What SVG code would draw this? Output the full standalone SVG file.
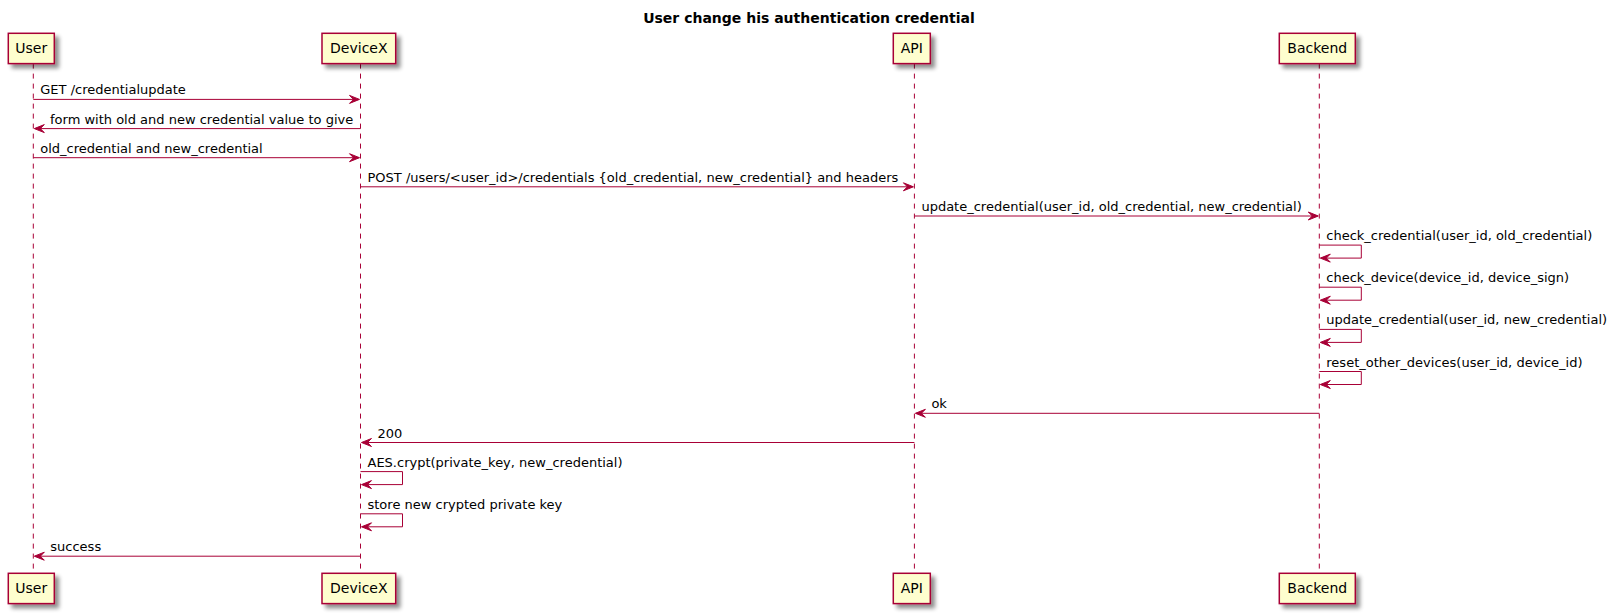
<svg xmlns="http://www.w3.org/2000/svg" width="1618" height="614" viewBox="0 0 1618 614">
<style>
.title{font-family:"DejaVu Sans",sans-serif;font-size:14px;font-weight:bold;fill:#000}
.pbox{fill:#FEFECE;stroke:#A80036;stroke-width:1.5}
.pname{font-family:"DejaVu Sans",sans-serif;font-size:14px;fill:#000;text-anchor:middle}
.life{stroke:#A80036;stroke-width:1;stroke-dasharray:5,5}
.msg{stroke:#A80036;stroke-width:1;fill:none}
.head{fill:#A80036;stroke:#A80036;stroke-width:1}
.lbl{font-family:"DejaVu Sans",sans-serif;font-size:13px;fill:#000}
</style>
<defs>
<filter id="shadow" x="-20%" y="-20%" width="150%" height="160%">
<feGaussianBlur in="SourceAlpha" stdDeviation="2" result="b"/>
<feOffset in="b" dx="4" dy="4" result="o"/>
<feComponentTransfer in="o" result="s"><feFuncA type="linear" slope="0.45"/></feComponentTransfer>
<feMerge><feMergeNode in="s"/><feMergeNode in="SourceGraphic"/></feMerge>
</filter>
</defs>
<rect width="1618" height="614" fill="#FFFFFF"/>
<text class="title" x="809" y="22.5" text-anchor="middle">User change his authentication credential</text>

<g id="lifelines">
<line class="life" x1="33.3" y1="63.6" x2="33.3" y2="573.3"/>
<line class="life" x1="360.5" y1="63.6" x2="360.5" y2="573.3"/>
<line class="life" x1="914.4" y1="63.6" x2="914.4" y2="573.3"/>
<line class="life" x1="1319.3" y1="63.6" x2="1319.3" y2="573.3"/>
</g>

<g id="User">
<rect class="pbox" filter="url(#shadow)" x="8.3" y="33.3" width="46" height="30.3"/>
<text class="pname" x="31.3" y="53.2">User</text>
<rect class="pbox" filter="url(#shadow)" x="8.3" y="573.3" width="46" height="30.3"/>
<text class="pname" x="31.3" y="593.2">User</text>
</g>
<g id="DeviceX">
<rect class="pbox" filter="url(#shadow)" x="322" y="33.3" width="73.7" height="30.3"/>
<text class="pname" x="358.85" y="53.2">DeviceX</text>
<rect class="pbox" filter="url(#shadow)" x="322" y="573.3" width="73.7" height="30.3"/>
<text class="pname" x="358.85" y="593.2">DeviceX</text>
</g>
<g id="API">
<rect class="pbox" filter="url(#shadow)" x="893.3" y="33.3" width="37" height="30.3"/>
<text class="pname" x="911.8" y="53.2">API</text>
<rect class="pbox" filter="url(#shadow)" x="893.3" y="573.3" width="37" height="30.3"/>
<text class="pname" x="911.8" y="593.2">API</text>
</g>
<g id="Backend">
<rect class="pbox" filter="url(#shadow)" x="1279.3" y="33.3" width="76" height="30.3"/>
<text class="pname" x="1317.3" y="53.2">Backend</text>
<rect class="pbox" filter="url(#shadow)" x="1279.3" y="573.3" width="76" height="30.3"/>
<text class="pname" x="1317.3" y="593.2">Backend</text>
</g>

<g id="connectors">
<!-- 1 GET -->
<line class="msg" x1="33.3" y1="99.4" x2="358.5" y2="99.4"/>
<polygon class="head" points="349.5,95.4 359.5,99.4 349.5,103.4 353.5,99.4"/>
<text class="lbl" x="40.3" y="94.4">GET /credentialupdate</text>
<!-- 2 form -->
<line class="msg" x1="360.5" y1="128.6" x2="35.3" y2="128.6"/>
<polygon class="head" points="44.3,124.6 34.3,128.6 44.3,132.6 40.3,128.6"/>
<text class="lbl" x="50" y="123.6">form with old and new credential value to give</text>
<!-- 3 old/new -->
<line class="msg" x1="33.3" y1="157.7" x2="358.5" y2="157.7"/>
<polygon class="head" points="349.5,153.7 359.5,157.7 349.5,161.7 353.5,157.7"/>
<text class="lbl" x="40.3" y="152.7">old_credential and new_credential</text>
<!-- 4 POST -->
<line class="msg" x1="360.5" y1="186.8" x2="912.4" y2="186.8"/>
<polygon class="head" points="903.4,182.8 913.4,186.8 903.4,190.8 907.4,186.8"/>
<text class="lbl" x="367.5" y="181.8">POST /users/&lt;user_id&gt;/credentials {old_credential, new_credential} and headers</text>
<!-- 5 update_credential -->
<line class="msg" x1="914.4" y1="216" x2="1317.3" y2="216"/>
<polygon class="head" points="1308.3,212 1318.3,216 1308.3,220 1312.3,216"/>
<text class="lbl" x="921.4" y="211">update_credential(user_id, old_credential, new_credential)</text>
<!-- 6 self check_credential -->
<polyline class="msg" points="1319.3,245.1 1361.3,245.1 1361.3,258.1 1321.3,258.1"/>
<polygon class="head" points="1330.3,254.1 1320.3,258.1 1330.3,262.1 1326.3,258.1"/>
<text class="lbl" x="1326.3" y="240.1">check_credential(user_id, old_credential)</text>
<!-- 7 self check_device -->
<polyline class="msg" points="1319.3,287.2 1361.3,287.2 1361.3,300.2 1321.3,300.2"/>
<polygon class="head" points="1330.3,296.2 1320.3,300.2 1330.3,304.2 1326.3,300.2"/>
<text class="lbl" x="1326.3" y="282.2">check_device(device_id, device_sign)</text>
<!-- 8 self update_credential -->
<polyline class="msg" points="1319.3,329.4 1361.3,329.4 1361.3,342.4 1321.3,342.4"/>
<polygon class="head" points="1330.3,338.4 1320.3,342.4 1330.3,346.4 1326.3,342.4"/>
<text class="lbl" x="1326.3" y="324.4">update_credential(user_id, new_credential)</text>
<!-- 9 self reset -->
<polyline class="msg" points="1319.3,371.5 1361.3,371.5 1361.3,384.5 1321.3,384.5"/>
<polygon class="head" points="1330.3,380.5 1320.3,384.5 1330.3,388.5 1326.3,384.5"/>
<text class="lbl" x="1326.3" y="366.5">reset_other_devices(user_id, device_id)</text>
<!-- 10 ok -->
<line class="msg" x1="1319.3" y1="413.3" x2="916.4" y2="413.3"/>
<polygon class="head" points="925.4,409.3 915.4,413.3 925.4,417.3 921.4,413.3"/>
<text class="lbl" x="931.4" y="408.3">ok</text>
<!-- 11 200 -->
<line class="msg" x1="914.4" y1="442.5" x2="362.5" y2="442.5"/>
<polygon class="head" points="371.5,438.5 361.5,442.5 371.5,446.5 367.5,442.5"/>
<text class="lbl" x="377.5" y="437.5">200</text>
<!-- 12 self AES -->
<polyline class="msg" points="360.5,471.6 402.5,471.6 402.5,484.6 362.5,484.6"/>
<polygon class="head" points="371.5,480.6 361.5,484.6 371.5,488.6 367.5,484.6"/>
<text class="lbl" x="367.5" y="466.6">AES.crypt(private_key, new_credential)</text>
<!-- 13 self store -->
<polyline class="msg" points="360.5,513.8 402.5,513.8 402.5,526.8 362.5,526.8"/>
<polygon class="head" points="371.5,522.8 361.5,526.8 371.5,530.8 367.5,526.8"/>
<text class="lbl" x="367.5" y="508.8">store new crypted private key</text>
<!-- 14 success -->
<line class="msg" x1="360.5" y1="556.2" x2="35.3" y2="556.2"/>
<polygon class="head" points="44.3,552.2 34.3,556.2 44.3,560.2 40.3,556.2"/>
<text class="lbl" x="50.3" y="551.2">success</text>
</g>
</svg>
